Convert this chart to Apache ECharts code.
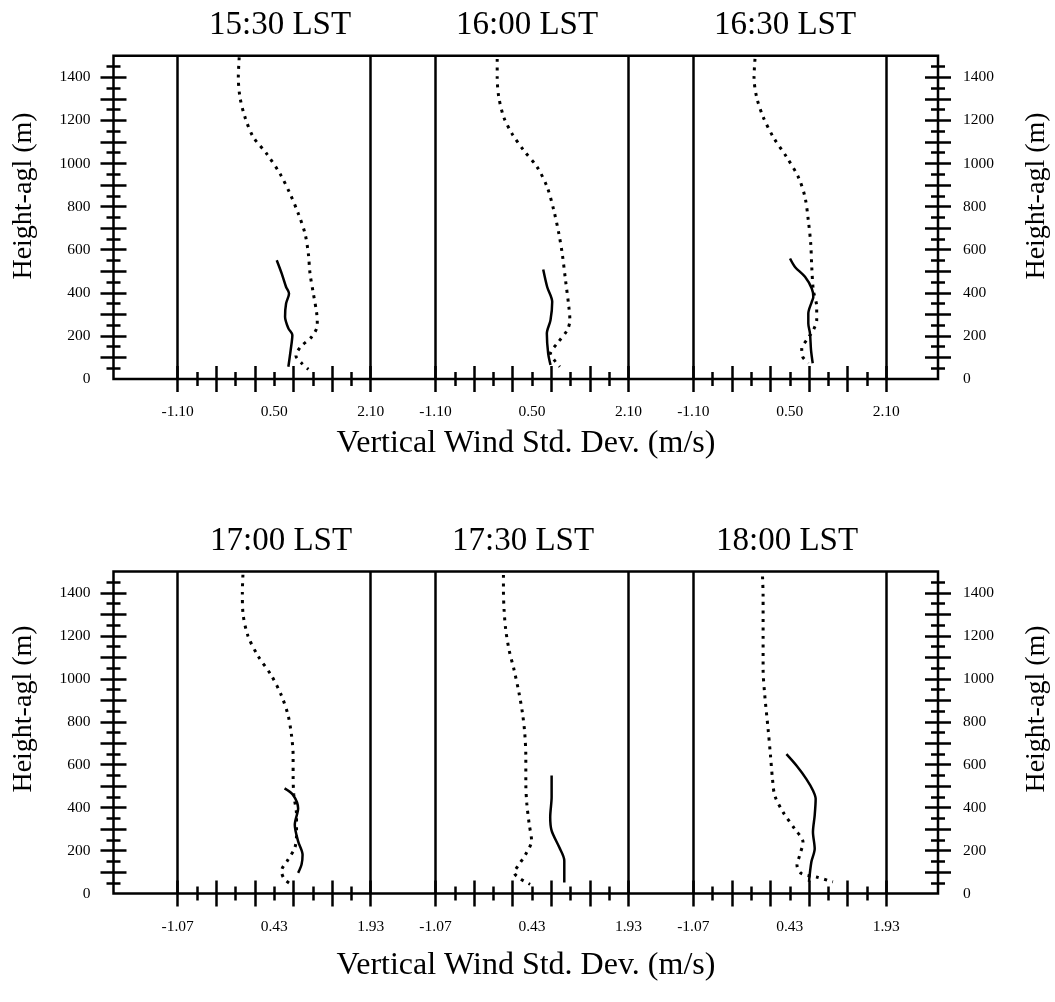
<!DOCTYPE html>
<html>
<head>
<meta charset="utf-8">
<script src="https://cdn.jsdelivr.net/npm/echarts@6/dist/echarts.min.js"></script>
<style>html,body{margin:0;padding:0;background:#fff}#c{width:1055px;height:1002px}</style>
</head>
<body>
<div id="c"></div>
<script>
// ---------------- data ----------------
const panelTitles = ['15:30 LST', '16:00 LST', '16:30 LST', '17:00 LST', '17:30 LST', '18:00 LST'];
const xAxisTitle = 'Vertical Wind Std. Dev. (m/s)';
const yAxisTitle = 'Height-agl (m)';

const topXRange = [-1.10, 2.10];
const topXLabels = [-1.10, 0.50, 2.10];
const topXMajorTicks = [-1.10, -0.46, 0.18, 0.82, 1.46, 2.10];
const topXMinorTicks = [-0.78, -0.14, 0.50, 1.14, 1.78];

const bottomXRange = [-1.07, 1.93];
const bottomXLabels = [-1.07, 0.43, 1.93];
const bottomXMajorTicks = [-1.07, -0.47, 0.13, 0.73, 1.33, 1.93];
const bottomXMinorTicks = [-0.77, -0.17, 0.43, 1.03, 1.63];

const heightRange = [0, 1500];
const heightLabels = [0, 200, 400, 600, 800, 1000, 1200, 1400];
const heightMajorTicks = [100, 200, 300, 400, 500, 600, 700, 800, 900, 1000, 1100, 1200, 1300, 1400];
const heightMinorTicks = [50, 150, 250, 350, 450, 550, 650, 750, 850, 950, 1050, 1150, 1250, 1350, 1450];

// [sigma_w (m/s), height (m)]
const dot1530 = [[-0.08,1492],[-0.095,1400],[-0.067,1307],[0.016,1214],[0.154,1122],[0.376,1045],[0.597,952],[0.762,860],[0.90,767],[1.011,675],[1.066,582],[1.094,489],[1.149,397],[1.205,304],[1.215,250],[1.122,196],[0.94,150],[0.86,108],[0.956,73],[1.066,45]];
const sol1530 = [[0.542,551],[0.625,489],[0.697,427],[0.746,397],[0.697,350],[0.68,289],[0.735,235],[0.801,204],[0.773,134],[0.735,57]];

const dot1600 = [[-0.077,1485],[-0.077,1399],[-0.05,1307],[0.033,1214],[0.172,1137],[0.364,1060],[0.586,983],[0.752,890],[0.862,782],[0.945,675],[1.001,582],[1.056,458],[1.111,335],[1.128,273],[1.084,227],[0.918,165],[0.807,119],[0.89,80],[0.961,57]];
const sol1600 = [[0.686,508],[0.752,427],[0.835,358],[0.807,273],[0.746,211],[0.768,119],[0.807,65]];

const dot1630 = [[-0.077,1485],[-0.093,1399],[-0.049,1307],[0.061,1214],[0.227,1122],[0.449,1029],[0.641,937],[0.752,844],[0.807,736],[0.847,628],[0.864,520],[0.89,412],[0.946,335],[0.946,273],[0.89,227],[0.78,181],[0.698,142],[0.714,103],[0.807,73]];
const sol1630 = [[0.504,559],[0.586,520],[0.752,474],[0.864,420],[0.89,381],[0.864,358],[0.807,304],[0.807,258],[0.835,211],[0.852,134],[0.88,73]];

const dot1700 = [[-0.056,1485],[-0.065,1400],[-0.056,1308],[0.022,1200],[0.178,1107],[0.387,1015],[0.543,922],[0.646,830],[0.699,737],[0.724,644],[0.724,552],[0.735,459],[0.777,367],[0.777,274],[0.75,212],[0.646,158],[0.543,104],[0.591,66],[0.699,42]];
const sol1700 = [[0.591,490],[0.724,459],[0.802,397],[0.75,320],[0.802,243],[0.871,181],[0.855,135],[0.802,96]];

const dot1730 = [[-0.014,1484],[-0.014,1414],[-0.004,1321],[0.022,1228],[0.074,1134],[0.152,1041],[0.23,931],[0.283,838],[0.318,744],[0.334,636],[0.334,511],[0.35,417],[0.386,324],[0.423,246],[0.334,184],[0.214,129],[0.152,98],[0.256,67],[0.401,43]];
const sol1730 = [[0.735,550],[0.735,449],[0.713,355],[0.735,293],[0.854,215],[0.932,153],[0.932,51]];

const dot1800 = [[0.006,1477],[0.015,1384],[0.015,1198],[0.015,1044],[0.042,920],[0.093,765],[0.13,642],[0.161,533],[0.197,456],[0.325,379],[0.507,301],[0.635,240],[0.584,178],[0.542,132],[0.611,93],[0.843,77],[1.1,54]];
const sol1800 = [[0.378,649],[0.533,596],[0.688,533],[0.79,480],[0.832,441],[0.817,364],[0.79,286],[0.817,209],[0.765,147],[0.728,54]];

const dottedSeries = [dot1530, dot1600, dot1630, dot1700, dot1730, dot1800];
const solidSeries = [sol1530, sol1600, sol1630, sol1700, sol1730, sol1800];

// ---------------- layout ----------------
const FONT = '"Liberation Serif", "Times New Roman", serif';
const L = {
  frameLeft: 113.5, frameWidth: 824.5,
  rowTop: [55.7, 571.5], rowHeight: [323.3, 322],
  panelLeft: [177.7, 435.5, 693.3], panelWidth: 193,
  titleX: [[280, 527, 785], [281, 523, 787]], titleY: [25, 541],
  xNameY: [444, 966], yNameY: [196, 709], yNameX: [24, 1037]
};

const chart = echarts.init(document.getElementById('c'), null, {renderer: 'canvas'});
const option = {animation: false, backgroundColor: '#fff', grid: [], xAxis: [], yAxis: [], series: [], graphic: []};
const black = '#000';
const labelStyle = {fontFamily: FONT, fontSize: 15.5, color: black};
const TW = 2.5;

// frames (one per row) with the height axes
for (let r = 0; r < 2; r++) {
  option.grid.push({left: L.frameLeft, top: L.rowTop[r], width: L.frameWidth, height: L.rowHeight[r],
    show: true, borderColor: black, borderWidth: TW, backgroundColor: 'transparent', containLabel: false, outerBoundsMode: 'none'});
  option.xAxis.push({type: 'value', gridIndex: r, show: false, min: 0, max: 1});
  ['left', 'right'].forEach(side => {
    const base = {type: 'value', gridIndex: r, position: side, min: heightRange[0], max: heightRange[1],
      axisLine: {show: false}, splitLine: {show: false}};
    option.yAxis.push(Object.assign({}, base, {offset: -13,
      axisTick: {show: true, length: 26, lineStyle: {color: black, width: TW}, customValues: heightMajorTicks},
      axisLabel: Object.assign({show: true, customValues: heightLabels, margin: side === 'left' ? 36 : 38,
        formatter: v => String(v)}, labelStyle)}));
    option.yAxis.push(Object.assign({}, base, {offset: -7,
      axisTick: {show: true, length: 14, lineStyle: {color: black, width: TW}, customValues: heightMinorTicks},
      axisLabel: {show: false}}));
  });
  option.series.push({type: 'line', xAxisIndex: r, yAxisIndex: 4 * r, data: [], silent: true});
}

// panels
for (let p = 0; p < 6; p++) {
  const r = Math.floor(p / 3), c = p % 3;
  const range = r === 0 ? topXRange : bottomXRange;
  const labels = r === 0 ? topXLabels : bottomXLabels;
  const major = r === 0 ? topXMajorTicks : bottomXMajorTicks;
  const minor = r === 0 ? topXMinorTicks : bottomXMinorTicks;
  const g = 2 + p;
  option.grid.push({left: L.panelLeft[c], top: L.rowTop[r], width: L.panelWidth, height: L.rowHeight[r],
    show: false, containLabel: false, outerBoundsMode: 'none'});
  const xi = option.xAxis.length;
  option.xAxis.push({type: 'value', gridIndex: g, position: 'bottom', offset: -13, min: range[0], max: range[1],
    axisLine: {show: false}, splitLine: {show: false},
    axisTick: {show: true, length: 26, lineStyle: {color: black, width: TW}, customValues: major},
    axisLabel: Object.assign({show: true, customValues: labels, margin: 38, formatter: v => v.toFixed(2)}, labelStyle)});
  option.xAxis.push({type: 'value', gridIndex: g, position: 'bottom', offset: -7, min: range[0], max: range[1],
    axisLine: {show: false}, splitLine: {show: false},
    axisTick: {show: true, length: 14, lineStyle: {color: black, width: TW}, customValues: minor},
    axisLabel: {show: false}});
  const yi = option.yAxis.length;
  option.yAxis.push({type: 'value', gridIndex: g, show: false, min: heightRange[0], max: heightRange[1], splitLine: {show: false}});

  option.series.push({type: 'line', name: panelTitles[p] + ' dotted', xAxisIndex: xi, yAxisIndex: yi,
    data: dottedSeries[p], symbol: 'none', smooth: 0.3, silent: true,
    lineStyle: {color: black, width: 3, type: [3, 5.5]}});
  option.series.push({type: 'line', name: panelTitles[p] + ' solid', xAxisIndex: xi, yAxisIndex: yi,
    data: solidSeries[p], symbol: 'none', smooth: 0.3, silent: true,
    lineStyle: {color: black, width: 2.5},
    markLine: {silent: true, symbol: ['none', 'none'], label: {show: false}, animation: false,
      lineStyle: {color: black, width: TW, type: 'solid'}, emphasis: {disabled: true},
      data: [{xAxis: range[0]}, {xAxis: range[1]}]}});

  option.graphic.push({type: 'text', x: L.titleX[r][c], y: L.titleY[r], silent: true,
    style: {text: panelTitles[p], font: '33px ' + FONT, fill: black,
      align: 'center', verticalAlign: 'middle', textAlign: 'center', textVerticalAlign: 'middle'}});
}

// axis titles
for (let r = 0; r < 2; r++) {
  option.graphic.push({type: 'text', x: 526, y: L.xNameY[r], silent: true,
    style: {text: xAxisTitle, font: '32px ' + FONT, fill: black,
      align: 'center', verticalAlign: 'middle', textAlign: 'center', textVerticalAlign: 'middle'}});
  L.yNameX.forEach(x => {
    option.graphic.push({type: 'text', x: x, y: L.yNameY[r], rotation: Math.PI / 2, silent: true,
      style: {text: yAxisTitle, font: '28px ' + FONT, fill: black,
        align: 'center', verticalAlign: 'middle', textAlign: 'center', textVerticalAlign: 'middle'}});
  });
}

chart.setOption(option);
</script>
</body>
</html>
